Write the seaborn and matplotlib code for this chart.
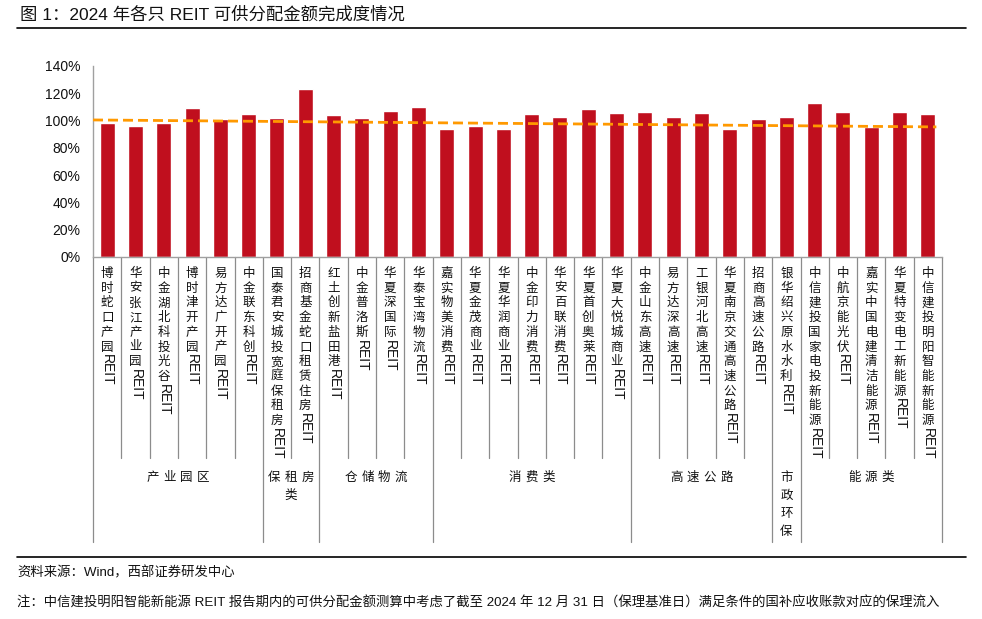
import matplotlib
matplotlib.use("Agg")
import matplotlib.pyplot as plt
import seaborn as sns
import pandas as pd
from matplotlib.lines import Line2D

# data
names = ['博时蛇口产园REIT', '华安张江产业园REIT', '中金湖北科投光谷REIT', '博时津开产园REIT',
         '易方达广开产园REIT', '中金联东科创REIT', '国泰君安城投宽庭保租房REIT', '招商基金蛇口租赁住房REIT',
         '红土创新盐田港REIT', '中金普洛斯REIT', '华夏深国际REIT', '华泰宝湾物流REIT',
         '嘉实物美消费REIT', '华夏金茂商业REIT', '华夏华润商业REIT', '中金印力消费REIT',
         '华安百联消费REIT', '华夏首创奥莱REIT', '华夏大悦城商业REIT', '中金山东高速REIT',
         '易方达深高速REIT', '工银河北高速REIT', '华夏南京交通高速公路REIT', '招商高速公路REIT',
         '银华绍兴原水水利REIT', '中信建投国家电投新能源REIT', '中航京能光伏REIT',
         '嘉实中国电建清洁能源REIT', '华夏特变电工新能源REIT', '中信建投明阳智能新能源REIT']
completion = [97.9, 95.7, 98.1, 108.8, 100.8, 104.9, 101.5, 122.7, 104.2, 102.0,
              106.6, 110.1, 93.7, 95.7, 93.7, 104.7, 102.5, 108.4, 105.2, 106.2,
              102.8, 105.2, 93.7, 101.3, 102.5, 112.5, 105.9, 95.0, 106.2, 104.5]
groups = ['产业园区', '保租房类', '仓储物流', '消费类', '高速公路', '市政环保', '能源类']
group_sizes = [6, 2, 4, 7, 5, 1, 5]
trend = [100.3, 95.2]  # dashed trend line, start and end value

title = '图 1：2024 年各只 REIT 可供分配金额完成度情况'
source = '资料来源：Wind，西部证券研发中心'
note = ('注：中信建投明阳智能新能源 REIT 报告期内的可供分配金额测算中考虑了截至 2024 年 12 月 31 日'
        '（保理基准日）满足条件的国补应收账款对应的保理流入')

sns.set_style('white')
plt.rcParams['font.family'] = ['Liberation Sans', 'Noto Sans CJK SC', 'DejaVu Sans']
CJK = ['Noto Sans CJK SC', 'DejaVu Sans']
LAT = ['Liberation Sans', 'DejaVu Sans']

W, H = 982, 619
fig = plt.figure(figsize=(W / 100, H / 100), dpi=100)
ax_left, ax_right, ax_top, ax_bot = 93, 942, 65.7, 257
ax = fig.add_axes([ax_left / W, (H - ax_bot) / H, (ax_right - ax_left) / W, (ax_bot - ax_top) / H])

df = pd.DataFrame({'name': names, 'value': completion})
sns.barplot(data=df, x='name', y='value', color='#C00F1E', width=0.53, saturation=1, ax=ax)

n = len(names)
ax.plot([-0.5, n - 0.7], trend, color='#FF9900', lw=2, ls=(0, (3.6, 1.8)), clip_on=False, zorder=3)

ax.set_xlim(-0.5, n - 0.5)
ax.set_ylim(0, 140)
ax.set_yticks(range(0, 141, 20))
ax.set_yticklabels([f'{v}%' for v in range(0, 141, 20)], fontsize=10, color='#111111', family=LAT)
ax.tick_params(axis='y', direction='in', length=4, color='#A0A0A0', pad=9)
ax.set_xticks([])
ax.set_xlabel('')
ax.set_ylabel('')
for s in ['top', 'right']:
    ax.spines[s].set_visible(False)
for s in ['left', 'bottom']:
    ax.spines[s].set_color('#A0A0A0')
    ax.spines[s].set_linewidth(1)

px = 0.72  # pixel -> points
axh = ax_bot - ax_top
tr = ax.get_xaxis_transform()

def yfrac(y_px):
    return -(y_px - ax_bot) / axh

# separators between bars and between groups
edges = [0]
for g in group_sizes:
    edges.append(edges[-1] + g)
for k in range(n + 1):
    low = 542 if k in edges else 458
    ax.add_line(Line2D([k - 0.5, k - 0.5], [0, yfrac(low)], transform=tr, color='#8C8C8C',
                       lw=0.9, clip_on=False))

# vertical tick labels: stacked Chinese chars, then rotated REIT
step = 14.7
for i, name in enumerate(names):
    chars = name.replace('REIT', '')
    y0 = 10
    for j, c in enumerate(chars):
        ax.annotate(c, xy=(i, 0), xycoords=tr, xytext=(0, -(y0 + j * step) * px),
                    textcoords='offset points', ha='center', va='top', fontsize=9, family=CJK,
                    color='#111111')
    ax.annotate('REIT', xy=(i, 0), xycoords=tr, xytext=(0, -(y0 + len(chars) * step - 1) * px),
                textcoords='offset points', ha='center', va='top', rotation=-90, fontsize=10,
                family=LAT, color='#111111')

# group labels
cat_w = (ax_right - ax_left) / n
gstep = 16.7
for g, start, size in zip(groups, edges[:-1], group_sizes):
    per_line = max(1, int(size * cat_w // 17))
    lines = [g[k:k + per_line] for k in range(0, len(g), per_line)]
    xc = start + size / 2 - 0.5
    for li, line in enumerate(lines):
        m = len(line)
        for j, c in enumerate(line):
            dx = (j - (m - 1) / 2) * gstep
            ax.annotate(c, xy=(xc, 0), xycoords=tr,
                        xytext=(dx * px, -(477.7 - ax_bot + li * 18) * px),
                        textcoords='offset points', ha='center', va='center', fontsize=9,
                        family=CJK, color='#111111')

# title, rules and footer
fig.text(20 / W, 1 - 14 / H, title, fontsize=12.5, va='center', ha='left', color='#111111',
         family=['Liberation Sans', 'Noto Sans CJK SC'])
fig.add_artist(Line2D([17 / W, 966 / W], [1 - 28.3 / H] * 2, color='black', lw=1.2))
fig.add_artist(Line2D([17 / W, 966 / W], [1 - 556.7 / H] * 2, color='black', lw=1.2))
fig.text(17 / W, 1 - 573 / H, source, fontsize=9.6, va='center', ha='left', color='#111111',
         family=['Liberation Sans', 'Noto Sans CJK SC'])
fig.text(17 / W, 1 - 603 / H, note, fontsize=9.6, va='center', ha='left', color='#111111',
         family=['Liberation Sans', 'Noto Sans CJK SC'])

fig.savefig('out.png', dpi=100)
